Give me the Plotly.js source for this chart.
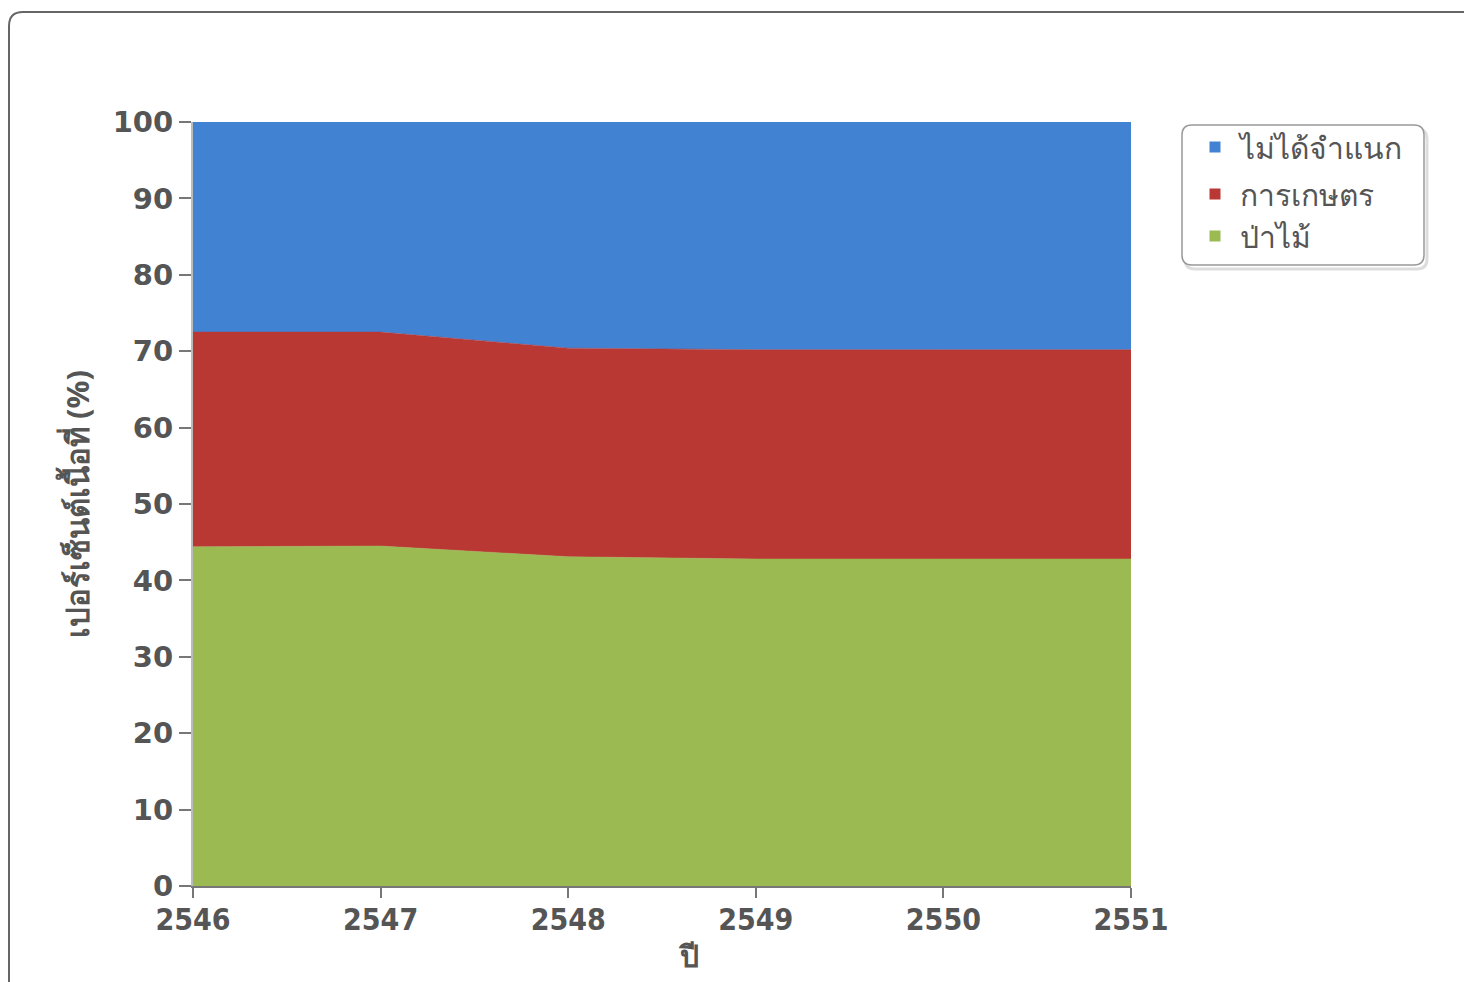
<!DOCTYPE html>
<html>
<head>
<meta charset="utf-8">
<script src="https://cdn.plot.ly/plotly-3.0.1.min.js"></script>
<style>html,body{margin:0;padding:0;background:#fff;}#chart{width:1464px;height:982px;}</style>
</head>
<body>
<div id="chart"></div>
<script>
const years = [2546, 2547, 2548, 2549, 2550, 2551];
const forest = [44.4, 44.5, 43.1, 42.8, 42.8, 42.8];        // ป่าไม้
const agriculture = [28.1, 28.0, 27.3, 27.4, 27.4, 27.4];   // การเกษตร
const unclassified = [27.5, 27.5, 29.6, 29.8, 29.8, 29.8];  // ไม่ได้จำแนก
const names = ['ไม่ได้จำแนก', 'การเกษตร', 'ป่าไม้'];
const colors = {blue: '#4282D2', red: '#BA3834', green: '#9BBB52'};

const W = 1464, H = 982;
const L = 193, R = 1131, T = 122, B = 886;
const px = x => (x - L) / (R - L);
const py = y => (B - y) / (B - T);

function roundRectPath(x0, y0, x1, y1, r) {
  const P = (x, y) => px(x).toFixed(5) + ',' + py(y).toFixed(5);
  return 'M' + P(x0 + r, y0) + ' L' + P(x1 - r, y0) + ' Q' + P(x1, y0) + ' ' + P(x1, y0 + r) +
    ' L' + P(x1, y1 - r) + ' Q' + P(x1, y1) + ' ' + P(x1 - r, y1) +
    ' L' + P(x0 + r, y1) + ' Q' + P(x0, y1) + ' ' + P(x0, y1 - r) +
    ' L' + P(x0, y0 + r) + ' Q' + P(x0, y0) + ' ' + P(x0 + r, y0) + ' Z';
}

const areaBase = {type: 'scatter', mode: 'lines', stackgroup: 'one', showlegend: false, hoverinfo: 'skip'};
const traces = [
  Object.assign({}, areaBase, {x: years, y: forest, name: names[2], fillcolor: colors.green, line: {color: colors.green, width: 0.5}}),
  Object.assign({}, areaBase, {x: years, y: agriculture, name: names[1], fillcolor: colors.red, line: {color: colors.red, width: 0.5}}),
  Object.assign({}, areaBase, {x: years, y: unclassified, name: names[0], fillcolor: colors.blue, line: {color: colors.blue, width: 0.5}}),
  {type: 'scatter', mode: 'markers', x: [null], y: [null], name: names[0], legendgroup: 'a', marker: {symbol: 'square', size: 11, color: colors.blue}},
  {type: 'scatter', mode: 'markers', x: [null], y: [null], name: names[1], legendgroup: 'b', marker: {symbol: 'square', size: 11, color: colors.red}},
  {type: 'scatter', mode: 'markers', x: [null], y: [null], name: names[2], legendgroup: 'b', marker: {symbol: 'square', size: 11, color: colors.green}}
];

const layout = {
  width: W, height: H,
  margin: {l: L, r: W - R, t: T, b: H - B, pad: 0},
  paper_bgcolor: '#ffffff', plot_bgcolor: '#ffffff',
  font: {family: 'Noto Sans, DejaVu Sans, sans-serif', color: '#555555'},
  xaxis: {
    range: [2546, 2551], tickvals: years, ticktext: years.map(String),
    showgrid: false, zeroline: false, showline: true, linecolor: '#777777', linewidth: 2,
    ticks: 'outside', ticklen: 10, tickcolor: '#777777', tickwidth: 2, ticklabelstandoff: -4,
    tickfont: {family: 'DejaVu Sans Condensed, DejaVu Sans', size: 30, color: '#555555', weight: 'bold'}
  },
  yaxis: {
    range: [0, 100], dtick: 10, tick0: 0,
    showgrid: false, zeroline: false, showline: true, linecolor: '#bbbbbb', linewidth: 2,
    ticks: 'outside', ticklen: 12, tickcolor: '#777777', tickwidth: 2,
    tickfont: {family: 'DejaVu Sans', size: 29, color: '#555555', weight: 'bold'},
    title: {text: 'เปอร์เซ็นต์เนื้อที่ (%)', font: {size: 31, color: '#555555', weight: 'bold'}, standoff: 14}
  },
  annotations: [
    {xref: 'paper', yref: 'paper', x: px(688), y: py(955), xanchor: 'center', yanchor: 'middle', showarrow: false,
     text: 'ปี', font: {size: 30, color: '#555555', weight: 'bold'}}
  ],
  legend: {
    x: px(1190), y: py(121), xanchor: 'left', yanchor: 'top',
    bgcolor: 'rgba(0,0,0,0)', borderwidth: 0,
    traceorder: 'grouped', tracegroupgap: 5,
    font: {size: 30, color: '#555555'},
    itemwidth: 40
  },
  shapes: [
    {type: 'path', xref: 'paper', yref: 'paper', path: roundRectPath(9, 12, 1480, 1000, 14), line: {color: '#666666', width: 2}, fillcolor: 'rgba(0,0,0,0)', layer: 'below'},
    {type: 'path', xref: 'paper', yref: 'paper', path: roundRectPath(1185, 129, 1427, 269, 10), line: {color: '#dddddd', width: 3}, fillcolor: 'rgba(0,0,0,0)', layer: 'below'},
    {type: 'path', xref: 'paper', yref: 'paper', path: roundRectPath(1182, 125, 1424, 265, 10), line: {color: '#999999', width: 1.5}, fillcolor: '#ffffff', layer: 'below'}
  ],
  hovermode: false
};

Plotly.newPlot('chart', traces, layout, {displayModeBar: false, staticPlot: true});
</script>
</body>
</html>
